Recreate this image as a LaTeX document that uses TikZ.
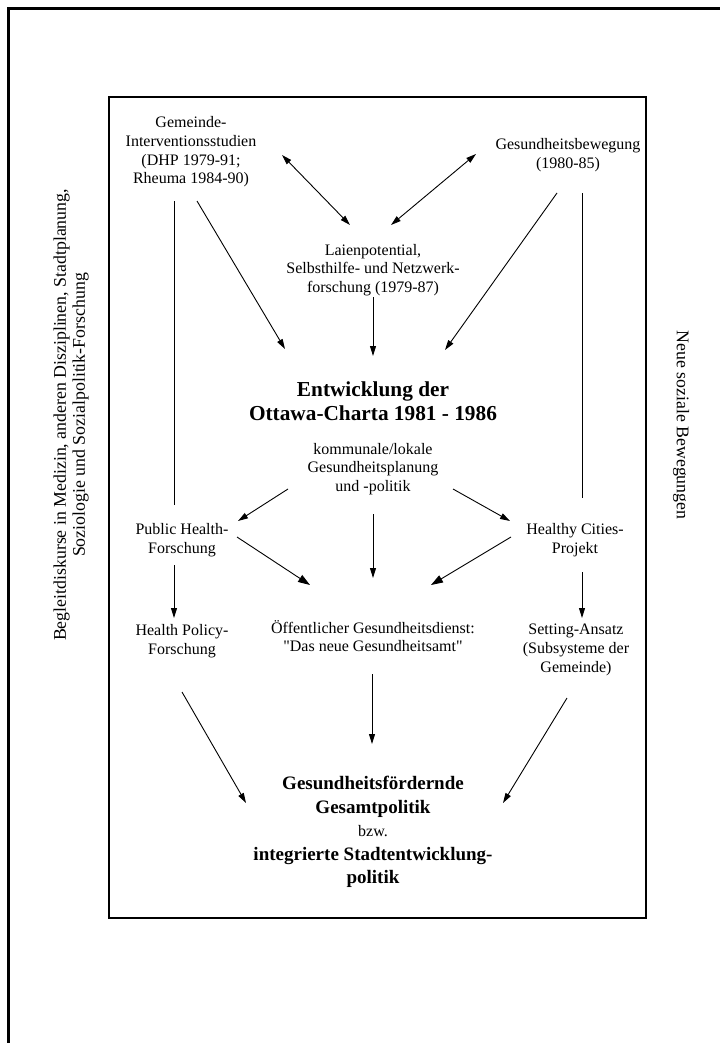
\documentclass[tikz,border=0pt]{standalone}
\usepackage{fontspec}
\setmainfont{Liberation Serif}[Ligatures=TeXOff]
\usetikzlibrary{arrows.meta}
\begin{document}
\begin{tikzpicture}[x=1pt,y=-1pt,
  txt/.style={align=center,inner sep=0pt,font=\fontsize{16}{18.7}\selectfont},
  ttl/.style={align=center,inner sep=0pt,font=\fontsize{21.3}{24}\selectfont\bfseries},
  side/.style={align=center,inner sep=0pt,font=\fontsize{17.8}{19}\selectfont},
  conn/.style={line width=0.9pt},
  arr/.style={conn,-{Triangle[length=10pt,width=6pt]}},
  arrbig/.style={conn,-{Triangle[length=12pt,width=8pt]}},
  dbl/.style={conn,{Triangle[length=10pt,width=6pt]}-{Triangle[length=10pt,width=6pt]}},
]
\useasboundingbox (0,0) rectangle (720,1043);

% page frame and diagram frame
\draw[line width=2.2pt] (8.5,1043) -- (8.5,8.5) -- (720,8.5);
\draw[line width=1.1pt] (109,97) rectangle (646,918);

% side captions
\node[side,rotate=90] (disc) at (71,415)
  {Begleitdiskurse in Medizin, anderen Disziplinen, Stadtplanung,\\Soziologie und Sozialpolitik-Forschung};
\node[side,rotate=-90] (nsb) at (681,425) {Neue soziale Bewegungen};

% boxes of text
\node[txt] (gem) at (191,152) {Gemeinde-\\Interventionsstudien\\(DHP 1979-91;\\Rheuma 1984-90)};
\node[txt] (gbew) at (568,155) {Gesundheitsbewegung\\(1980-85)};
\node[txt] (laien) at (373,270) {Laienpotential,\\Selbsthilfe- und Netzwerk-\\forschung (1979-87)};
\node[ttl] (title) at (373,401) {Entwicklung der\\Ottawa-Charta 1981 - 1986};
\node[txt] (komm) at (373,469) {kommunale/lokale\\Gesundheitsplanung\\und -politik};
\node[txt] (ph) at (182,540) {Public Health-\\Forschung};
\node[txt] (hc) at (575,540) {Healthy Cities-\\Projekt};
\node[txt] (oeff) at (373,636) {Öffentlicher Gesundheitsdienst:\\"Das neue Gesundheitsamt"};
\node[txt] (hp) at (182,641) {Health Policy-\\Forschung};
\node[txt] (set) at (576,650) {Setting-Ansatz\\(Subsysteme der\\Gemeinde)};
\node[inner sep=0pt,font=\fontsize{19}{23.5}\selectfont] (bot) at (373,832)
  {\begin{tabular}{@{}c@{}}
   \bfseries Gesundheitsfördernde\\
   \bfseries Gesamtpolitik\\
   \fontsize{16}{18.7}\selectfont bzw.\\
   \bfseries integrierte Stadtentwicklung-\\
   \bfseries politik
   \end{tabular}};

% connectors
\draw[dbl] ([shift={(91,3)}]gem.center) -- ([shift={(-23,-45)}]laien.center);
\draw[dbl] ([shift={(-92,-1)}]gbew.center) -- ([shift={(18,-45)}]laien.center);
\draw[conn] ([shift={(-17,49)}]gem.center) -- ([shift={(-8,-35)}]ph.center);
\draw[arr] ([shift={(6,49)}]gem.center) -- ([shift={(-88,-52)}]title.center);
\draw[arr] ([shift={(0,27)}]laien.center) -- ([shift={(0,-45)}]title.center);
\draw[arr] ([shift={(-11,38)}]gbew.center) -- ([shift={(72,-51)}]title.center);
\draw[conn] ([shift={(14,38)}]gbew.center) -- ([shift={(7,-42)}]hc.center);
\draw[arr] ([shift={(-85,20)}]komm.center) -- ([shift={(56,-19)}]ph.center);
\draw[arr] ([shift={(80,20)}]komm.center) -- ([shift={(-65,-19)}]hc.center);
\draw[arr] ([shift={(0,45)}]komm.center) -- ([shift={(0,-58)}]oeff.center);
\draw[arrbig] ([shift={(55,-3)}]ph.center) -- ([shift={(-63,-51)}]oeff.center);
\draw[arrbig] ([shift={(-64,-3)}]hc.center) -- ([shift={(58,-51)}]oeff.center);
\draw[arr] ([shift={(-8,25)}]ph.center) -- ([shift={(-8,-23)}]hp.center);
\draw[arr] ([shift={(7,32)}]hc.center) -- ([shift={(6,-32)}]set.center);
\draw[arr] ([shift={(-1,38)}]oeff.center) -- ([shift={(-1,-88)}]bot.center);
\draw[arr] ([shift={(0,51)}]hp.center) -- ([shift={(-127,-29)}]bot.center);
\draw[arr] ([shift={(-9,48)}]set.center) -- ([shift={(130,-29)}]bot.center);
\end{tikzpicture}
\end{document}
